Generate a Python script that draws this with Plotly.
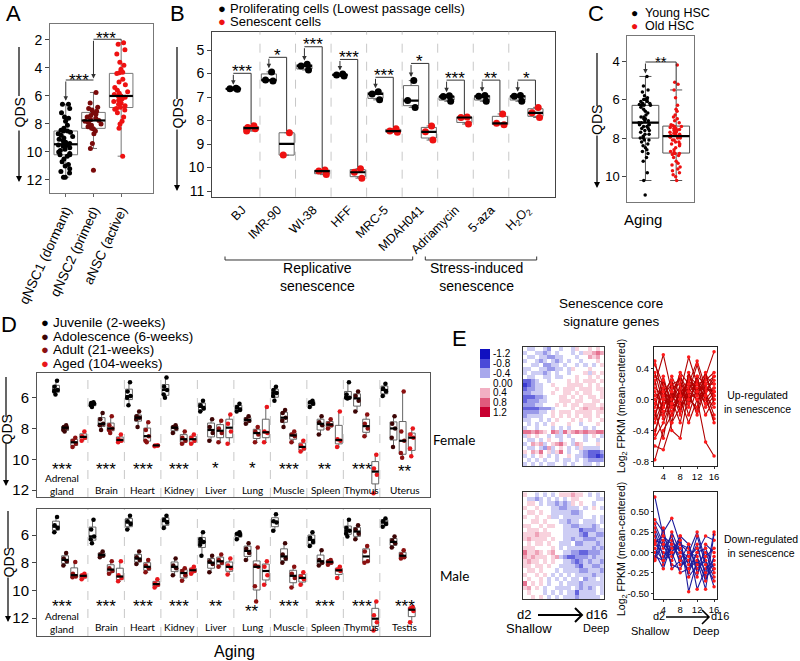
import numpy as np
import plotly.graph_objects as go

FONT = "Liberation Sans, Arial, sans-serif"
FONT_C = "Lato, Open Sans, sans-serif"

# ======================= DATA =======================
# ---- Panel A (QDS of neural stem cells)
A_categories = ["qNSC1 (dormant)", "qNSC2 (primed)", "aNSC (active)"]
A_qNSC1 = [6.6, 6.6, 6.9, 7.2, 7.5, 7.6, 7.8, 8.1, 8.3, 8.45, 8.5, 8.5, 8.6, 8.7, 8.8, 8.9, 9.0, 9.1,
           9.2, 9.3, 9.4, 9.45, 9.5, 9.5, 9.55, 9.6, 9.7, 9.8, 9.9, 10.0, 10.1, 10.2, 10.2, 10.3,
           10.5, 10.7, 10.9, 11.0, 11.2, 11.4, 11.5, 11.8, 11.8]
A_qNSC2 = [5.75, 6.5, 6.8, 6.9, 7.0, 7.1, 7.2, 7.3, 7.4, 7.5, 7.6, 7.7, 7.75, 7.8, 7.9, 8.0, 8.1,
           8.2, 8.3, 8.35, 8.5, 8.7, 9.4, 9.75, 11.3]
A_aNSC = [2.2, 2.3, 2.7, 3.0, 3.6, 3.8, 4.1, 4.3, 4.35, 4.4, 4.8, 5.0, 5.2, 5.4, 5.6, 5.7, 5.8, 5.9,
          6.0, 6.0, 6.1, 6.2, 6.3, 6.4, 6.5, 6.6, 6.7, 6.8, 6.9, 6.95, 7.0, 7.2, 7.5, 7.8, 8.0, 8.3, 10.3]

# ---- Panel B (cell lines)
B_cell_lines = ["BJ", "IMR-90", "WI-38", "HFF", "MRC-5", "MDAH041", "Adriamycin", "5-aza",
                "H<sub>2</sub>O<sub>2</sub>"]
B_proliferating = [[6.63, 6.65, 6.67], [5.93, 6.28, 6.32], [5.6, 5.68, 5.85], [6.02, 6.06, 6.1],
                   [6.78, 6.87, 7.12], [6.3, 7.15, 7.44], [6.95, 6.98, 7.18], [6.93, 6.97, 7.18],
                   [6.93, 6.97, 7.18]]
B_senescent = [[8.22, 8.3, 8.35, 8.45], [8.52, 9.47], [10.1, 10.15, 10.3], [10.05, 10.2, 10.45],
               [8.35, 8.45, 8.5], [8.23, 8.48, 8.83], [7.85, 7.87, 8.15], [7.72, 8.12, 8.18],
               [7.44, 7.67, 7.87]]
B_stars = ["***", "*", "***", "***", "***", "*", "***", "**", "*"]
B_bracket_level = [5.99, 5.31, 4.86, 5.4, 6.16, 5.57, 6.28, 6.28, 6.28]

# ---- Panel C (HSC)
C_young_hsc = [4.8, 5.3, 5.5, 5.6, 5.8, 5.9, 6.0, 6.0, 6.0, 6.1, 6.1, 6.2, 6.2, 6.25, 6.3, 6.3, 6.3,
               6.4, 6.5, 6.6, 6.7, 6.8, 6.9, 6.9, 7.0, 7.0, 7.1, 7.1, 7.2, 7.2, 7.3, 7.3, 7.3, 7.4,
               7.4, 7.5, 7.5, 7.6, 7.6, 7.7, 7.8, 7.8, 7.9, 8.0, 8.0, 8.1, 8.1, 8.2, 8.3, 8.4, 8.5,
               8.6, 8.7, 8.8, 9.0, 9.2, 9.8, 10.2, 10.95]
C_old_hsc = [4.2, 5.1, 5.2, 5.5, 5.9, 6.3, 6.5, 6.6, 6.8, 6.9, 7.0, 7.1, 7.2, 7.3, 7.35, 7.4, 7.4,
             7.45, 7.5, 7.5, 7.55, 7.6, 7.6, 7.7, 7.7, 7.75, 7.8, 7.8, 7.85, 7.9, 7.9, 7.95, 8.0,
             8.0, 8.1, 8.1, 8.2, 8.2, 8.3, 8.3, 8.4, 8.5, 8.6, 8.7, 8.75, 8.8, 8.8, 8.85, 8.9, 9.0,
             9.2, 9.3, 9.4, 9.5, 9.6, 9.7, 9.8, 9.9, 10.0, 10.2]

# ---- Panel D (mouse tissues)
D_groups = ["Juvenile (2-weeks)", "Adolescence (6-weeks)", "Adult (21-weeks)", "Aged (104-weeks)"]
D_female_tissues = ["Adrenal<br>gland", "Brain", "Heart", "Kidney", "Liver", "Lung", "Muscle",
                    "Spleen", "Thymus", "Uterus"]
D_male_tissues = ["Adrenal<br>gland", "Brain", "Heart", "Kidney", "Liver", "Lung", "Muscle",
                  "Spleen", "Thymus", "Testis"]
D_female_juvenile = [[4.9, 5.3, 5.5, 5.6, 5.8], [6.3, 6.35, 6.4, 6.5, 6.6], [5.0, 5.6, 5.9, 6.0, 6.5],
                     [4.7, 5.3, 5.5, 5.8, 6.0], [6.2, 6.5, 6.7, 6.9], [6.4, 6.6, 6.8, 6.9],
                     [5.3, 5.5, 5.7, 5.9, 6.2], [6.2, 6.3, 6.4, 6.6], [5.0, 5.8, 6.0, 6.0, 6.05],
                     [5.1, 5.4, 5.6, 5.9]]
D_female_adolescence = [[7.8, 7.9, 7.95, 8.1, 8.2], [7.0, 7.4, 7.7, 7.8, 8.1], [6.9, 7.2, 7.3, 7.4, 7.9],
                        [7.8, 7.9, 8.0, 8.3], [7.4, 7.9, 8.3, 8.8], [7.2, 7.4, 7.5, 7.7],
                        [6.8, 7.0, 7.3, 7.5, 7.9], [7.2, 7.6, 7.8, 8.4], [5.6, 5.9, 6.2, 6.9],
                        [7.2, 7.7, 8.0, 8.6, 9.2]]
D_female_adult = [[8.6, 8.8, 9.0, 9.2], [7.2, 7.8, 8.0, 8.1, 8.3], [7.6, 8.1, 8.5, 8.8, 8.9],
                  [8.2, 8.6, 8.8, 9.0], [7.5, 8.0, 8.3, 8.9], [7.9, 8.2, 8.4, 8.9],
                  [8.2, 8.4, 8.5, 8.9], [7.4, 7.7, 7.8, 8.0], [7.1, 7.7, 8.0, 8.5],
                  [5.6, 8.2, 8.8, 9.6, 9.9]]
D_female_aged = [[8.2, 8.5, 8.6, 8.8], [8.4, 8.7, 8.8, 8.9], [9.1, 9.1, 9.1, 9.15],
                 [8.4, 8.6, 8.8, 9.0], [7.1, 7.7, 8.2, 9.0], [6.6, 8.2, 8.3, 8.9],
                 [8.8, 9.1, 9.3, 9.5], [6.9, 8.7, 8.8, 9.2], [9.7, 10.6, 11.0, 12.2],
                 [8.0, 8.4, 8.6, 9.3, 9.8]]
D_male_juvenile = [[4.7, 5.3, 5.5, 5.8], [4.9, 5.6, 6.1, 6.3, 6.6], [4.6, 5.0, 5.2, 5.6],
                   [4.6, 4.9, 5.1, 5.5], [5.8, 6.3, 6.5, 6.7, 7.5], [5.8, 5.9, 6.0, 6.3],
                   [4.5, 5.0, 5.1, 5.7], [5.8, 6.2, 6.5, 6.8], [4.9, 5.5, 5.7, 5.9, 6.1],
                   [4.8, 5.0, 5.2, 5.4]]
D_male_adolescence = [[7.3, 7.7, 7.9, 8.2], [7.2, 7.4, 7.5, 7.6], [7.2, 7.6, 7.8, 8.1],
                      [7.7, 8.2, 8.4, 8.9], [7.5, 7.9, 8.1, 8.7], [6.6, 7.0, 7.3, 7.8],
                      [6.6, 7.4, 7.7, 8.0], [7.1, 7.8, 8.0, 8.2], [5.3, 5.6, 5.9, 6.3],
                      [6.1, 6.4, 6.6, 6.9]]
D_male_adult = [[7.95, 8.8, 9.0, 9.05], [7.9, 8.4, 8.6, 8.8], [7.8, 8.2, 8.4, 8.7],
                [8.4, 8.6, 8.9, 9.3], [7.4, 7.8, 8.0, 8.3], [6.9, 8.2, 8.3, 9.7, 10.8],
                [8.3, 8.8, 9.1, 9.8], [7.8, 7.9, 8.0, 8.15], [6.8, 7.2, 7.9, 8.0],
                [7.1, 7.4, 7.6, 7.7]]
D_male_aged = [[8.8, 8.9, 9.0, 9.2], [7.9, 8.9, 9.1, 9.35], [9.2, 9.5, 9.6, 9.8],
               [8.3, 8.5, 8.6, 8.8], [7.7, 8.2, 8.4, 8.85], [7.9, 8.3, 8.9, 9.6],
               [8.7, 9.0, 9.2, 9.6], [8.3, 8.5, 8.6, 9.1], [10.8, 11.8, 12.3, 12.9],
               [11.2, 11.3, 11.5, 12.3]]
D_female_stars = ["***", "***", "***", "***", "*", "*", "***", "**", "***", "**"]
D_male_stars = ["***", "***", "***", "***", "**", "**", "***", "***", "***", "***"]
D_female_star_level = [10.37, 10.37, 10.37, 10.37, 10.3, 10.3, 10.37, 10.37, 10.37, 10.5]
D_male_star_level = [10.87, 10.87, 10.87, 10.87, 10.87, 11.2, 10.87, 10.87, 10.87, 10.87]

# ---- Panel E (senescence core signature genes)
E_color_levels = [-1.2, -0.8, -0.4, 0.0, 0.4, 0.8, 1.2]
E_color_labels = ["-1.2", "-0.8", "-0.4", "0.00", "0.4", "0.8", "1.2"]
# each digit: level index 0..8 -> (digit - 4) * 0.23
E_heat_up_rows = [
    "43344324434435445454", "34433234344434355676", "43343322334443446564", "34432343234344344454",
    "44334223343443434345", "33443322334354445444", "34333234344344453545", "43344334334445445454",
    "11234434444545455545", "01233445444555545454", "12233444545554555455", "22333445445545455445",
    "11122344455454545545", "12223344455545544554", "22233444545455455545", "11112223444454565556",
    "22223345455545555455", "23333445454545455454", "33443434544454545445", "43434345444544344454",
    "34434443434344434344", "77676547637567676677", "35454434334344434543", "43343454434434434434",
    "34656345675436544454", "43343263454343533334", "54657453574344321112", "34345434344543321101",
    "43434344343343432222", "34343433443434433434"]
E_heat_down_rows = [
    "54434343455565543434", "43323434343455444433", "45543433232354544344", "54454443322333434543",
    "45545443333322344444", "54454453343333344343", "44554544433233433343", "55445455443322333234",
    "45554544443333122233", "55565554443333213322", "56555545443323322233", "45455454433342233323",
    "55544445434333333232", "75565456443322112223", "65655545632112223233", "56554545443321232332",
    "55455454433332133223", "45545444343333223332", "54454543434343333233", "45445434343433423343",
    "74545434434333233333", "56454344333343232343", "45444343434331333343", "44545434343332333334"]
E_days = [2, 4, 6, 8, 10, 12, 14, 16]
E_up_genes = [
    [0.5, 0.0, -0.1, 0.1, 0.2, 0.05, 0.3, 0.62], [-0.78, -0.4, -0.2, 0.1, 0.0, 0.2, 0.1, 0.25],
    [0.2, 0.58, 0.1, -0.05, 0.3, 0.1, 0.2, 0.0], [-0.6, -0.65, -0.3, -0.1, 0.15, 0.0, -0.55, -0.73],
    [0.45, 0.2, -0.2, 0.1, 0.55, 0.2, 0.1, 0.3], [-0.2, 0.1, 0.0, -0.3, 0.2, 0.5, 0.15, 0.1],
    [0.0, -0.25, 0.15, 0.2, -0.1, 0.3, 0.2, 0.2], [-0.4, -0.1, 0.2, 0.0, 0.25, 0.1, 0.05, -0.1],
    [0.3, 0.2, -0.4, -0.5, 0.1, 0.2, 0.0, 0.15], [-0.5, -0.3, 0.0, 0.1, 0.0, -0.1, 0.3, 0.05],
    [0.1, -0.1, 0.1, 0.3, 0.1, 0.0, 0.1, -0.2], [-0.1, 0.3, -0.1, 0.0, 0.3, 0.2, 0.25, 0.35],
    [0.25, -0.2, 0.05, 0.15, -0.2, 0.15, -0.2, 0.0], [-0.3, 0.0, 0.3, 0.05, 0.15, 0.25, 0.0, -0.25],
    [0.0, 0.15, -0.3, 0.2, 0.1, -0.2, 0.15, 0.1], [-0.15, -0.5, 0.1, -0.2, 0.35, 0.05, 0.3, 0.2],
    [0.15, 0.05, 0.2, 0.25, -0.05, 0.3, -0.1, 0.05], [-0.25, 0.25, -0.05, -0.1, 0.05, -0.15, 0.2, 0.3],
    [0.35, -0.05, 0.0, 0.35, 0.2, 0.1, 0.35, -0.05], [-0.05, -0.15, -0.15, 0.0, -0.3, 0.0, 0.1, 0.15],
    [0.05, 0.1, 0.25, -0.15, 0.1, 0.45, 0.05, -0.3], [-0.45, 0.0, -0.05, 0.3, 0.0, 0.1, -0.05, 0.1]]
E_down_genes = [
    [0.68, 0.2, 0.1, -0.1, -0.2, -0.1, -0.3, -0.2], [0.4, 0.25, 0.42, 0.1, 0.0, 0.25, -0.1, -0.3],
    [0.35, 0.1, 0.0, 0.2, -0.48, -0.1, -0.45, 0.22], [0.2, -0.15, 0.15, 0.0, -0.1, -0.3, 0.1, 0.0],
    [0.1, 0.0, -0.1, 0.2, 0.1, -0.2, -0.1, -0.42], [0.0, -0.2, 0.1, -0.05, -0.25, 0.0, 0.2, 0.15],
    [-0.1, 0.15, -0.05, 0.1, 0.05, -0.45, -0.2, -0.1], [0.3, 0.05, 0.2, -0.15, -0.1, 0.1, -0.3, 0.25],
    [-0.05, -0.1, 0.0, 0.15, -0.3, -0.15, 0.0, -0.25], [0.15, 0.1, -0.15, -0.2, 0.0, -0.05, -0.35, -0.05],
    [0.25, -0.05, 0.05, 0.05, -0.15, 0.2, -0.15, -0.35], [-0.08, 0.3, -0.2, -0.1, 0.1, -0.25, -0.05, 0.05],
    [0.05, -0.1, 0.25, 0.0, -0.05, 0.05, -0.25, -0.15], [0.12, 0.2, 0.0, -0.25, -0.2, 0.0, 0.05, -0.2]]

# ======================= STYLE =======================
A_colors = ["#000000", "#7a0a0a", "#ee1111"]
B_colors = ["#000000", "#ee1111"]
D_colors = ["#000000", "#3d0505", "#8b1010", "#e8161b"]
HEAT_SCALE = [[0, "#1010c0"], [0.1667, "#4a4ad8"], [0.3333, "#a8a8ec"], [0.5, "#ffffff"],
              [0.6667, "#f2b0c3"], [0.8333, "#e05a7c"], [1, "#c80030"]]

W, H = 800, 661
def px(x):
    return x / W
def py(y):
    return 1 - y / H

fig = go.Figure()
shapes = []
annots = []
axes = {}
med_x, med_y = {}, {}


def set_axes(n, xpx, ypx, xr, yr, xkw=None, ykw=None, lc="#666"):
    base = dict(showgrid=False, zeroline=False, showline=True, mirror=True, linecolor=lc,
                linewidth=1, automargin=False, type="linear", fixedrange=True)
    sfx = "" if n == 1 else str(n)
    xa = dict(base, domain=[px(xpx[0]), px(xpx[1])], range=xr, anchor="y" + sfx,
              showticklabels=False, ticks="")
    ya = dict(base, domain=[py(ypx[1]), py(ypx[0])], range=yr, anchor="x" + sfx,
              showticklabels=False, ticks="")
    xa.update(xkw or {})
    ya.update(ykw or {})
    axes["xaxis" + sfx] = xa
    axes["yaxis" + sfx] = ya
    return "x" + sfx, "y" + sfx


def ann(text, x, y, size=13, color="#000", family=FONT, **kw):
    d = dict(text=text, x=px(x), y=py(y), xref="paper", yref="paper", showarrow=False,
             font=dict(size=size, color=color, family=family), xanchor="center", yanchor="middle")
    d.update(kw)
    annots.append(d)


def add_box(vals, pos, xa, ya, color, width, msize, jitter, ww, lc="#666"):
    fig.add_trace(go.Box(y=vals, x0=pos, xaxis=xa, yaxis=ya, width=width, boxpoints="all",
                         jitter=jitter, pointpos=0, whiskerwidth=ww,
                         fillcolor="rgba(255,255,255,0)", line=dict(color=lc, width=1),
                         marker=dict(color=color, size=msize, line=dict(width=0)),
                         showlegend=False, hoverinfo="skip"))
    m = float(np.median(vals))
    med_x.setdefault((xa, ya), []).extend([pos - width / 2, pos + width / 2, None])
    med_y.setdefault((xa, ya), []).extend([m, m, None])


def data_line(xa, ya, x0, y0, x1, y1, color="#333", width=1):
    shapes.append(dict(type="line", xref=xa, yref=ya, x0=x0, y0=y0, x1=x1, y1=y1,
                       line=dict(color=color, width=width)))


def data_arrow(xa, ya, x, y_from, y_to, color="#333"):
    annots.append(dict(x=x, y=y_to, ax=x, ay=y_from, xref=xa, yref=ya, axref=xa, ayref=ya,
                       text="", showarrow=True, arrowhead=2, arrowsize=0.9, arrowwidth=1,
                       arrowcolor=color, standoff=0, startstandoff=0))


def stars(xa, ya, x, y, text, size):
    annots.append(dict(x=x, y=y, xref=xa, yref=ya, text=text, showarrow=False,
                       font=dict(size=size, family=FONT, color="#000"),
                       xanchor="center", yanchor="middle", yshift=-0.27 * size))


def qds(xp, y_top, t_top, t_bot, y_bot, fs=14):
    shapes.append(dict(type="line", xref="paper", yref="paper", x0=px(xp), x1=px(xp),
                       y0=py(y_top), y1=py(t_top), line=dict(color="#000", width=1.2)))
    ann("QDS", xp, (t_top + t_bot) / 2, size=fs, textangle=-90)
    annots.append(dict(x=px(xp), y=py(y_bot), xref="paper", yref="paper", ax=0,
                       ay=-(y_bot - t_bot), text="", showarrow=True, arrowhead=2, arrowsize=1,
                       arrowwidth=1.2, arrowcolor="#000", standoff=0))


# ======================= PANEL A =======================
xa, ya = set_axes(1, (50, 153), (24, 193), [-0.57, 3.15], [12.93, 0.86],
                  xkw=dict(showticklabels=True, tickvals=[0, 1, 2], ticktext=A_categories,
                           tickangle=-65, ticks="outside", ticklen=3, tickcolor="#666",
                           tickfont=dict(size=13.5, family=FONT)),
                  ykw=dict(showticklabels=True, tickvals=[2, 4, 6, 8, 10, 12], ticks="outside",
                           ticklen=4, tickcolor="#444", tickfont=dict(size=14, family=FONT)),
                  lc="#777")
for i, vals in enumerate([A_qNSC1, A_qNSC2, A_aNSC]):
    add_box(vals, i, xa, ya, A_colors[i], 0.85, 5, 0.75, 0.3, lc="#777")
data_line(xa, ya, 0, 4.86, 1, 4.86)
data_arrow(xa, ya, 0, 4.86, min(A_qNSC1) - 0.25)
data_arrow(xa, ya, 1, 1.95, 4.75)
data_line(xa, ya, 1, 1.95, 2, 1.95)
data_line(xa, ya, 2, 1.95, 2, min(A_aNSC) - 0.1)
stars(xa, ya, 0.48, 4.6, "***", 17)
stars(xa, ya, 1.45, 1.55, "***", 17)
qds(19, 47, 96, 129, 182)

# ======================= PANEL B =======================
xa, ya = set_axes(2, (212, 555), (31.7, 196.7), [-1.2, 18.1], [11.24, 4.22],
                  xkw=dict(showticklabels=True, tickvals=[2 * i + 0.5 for i in range(9)],
                           ticktext=B_cell_lines, tickangle=-45,
                           tickfont=dict(size=12.5, family=FONT)),
                  ykw=dict(showticklabels=True, tickvals=list(range(5, 12)), ticks="outside",
                           ticklen=4, tickcolor="#444", tickfont=dict(size=14, family=FONT)),
                  lc="#444")
for i in range(1, 9):
    shapes.append(dict(type="line", xref=xa, yref=ya + " domain", x0=2 * i - 0.5, x1=2 * i - 0.5,
                       y0=0, y1=1, line=dict(color="#c8c8c8", width=1, dash="dash")))
for i in range(9):
    add_box(B_proliferating[i], 2 * i, xa, ya, B_colors[0], 0.85, 7, 0.7, 0.3)
    add_box(B_senescent[i], 2 * i + 1, xa, ya, B_colors[1], 0.85, 7, 0.7, 0.3)
    top = B_bracket_level[i]
    data_line(xa, ya, 2 * i, top, 2 * i + 1, top)
    data_arrow(xa, ya, 2 * i, top, min(B_proliferating[i]) - 0.15)
    data_line(xa, ya, 2 * i + 1, top, 2 * i + 1, min(B_senescent[i]) - 0.08)
    stars(xa, ya, 2 * i + 0.5, top - 0.27, B_stars[i], 17)
qds(177, 47, 99, 128, 191)
# legend B
ann("●", 221.5, 8, size=13, color=B_colors[0])
ann("Proliferating cells (Lowest passage cells)", 228, 8, size=13, xanchor="left")
ann("●", 221.5, 21.5, size=13, color=B_colors[1])
ann("Senescent cells", 228, 21.5, size=13, xanchor="left")
# group brackets under B
for (x0, x1) in [(225, 412.7), (425.3, 536.7)]:
    shapes.append(dict(type="path", xref="paper", yref="paper",
                       path="M %f %f L %f %f L %f %f L %f %f" % (px(x0), py(256.5), px(x0), py(260),
                                                                  px(x1), py(260), px(x1), py(256.5)),
                       line=dict(color="#333", width=1)))
ann("Replicative<br>senescence", 317, 277, size=14)
ann("Stress-induced<br>senescence", 476, 277, size=14)

# ======================= PANEL C =======================
xa, ya = set_axes(3, (627.3, 694), (36, 201.7), [-0.59, 1.58], [11.3, 2.7],
                  ykw=dict(showticklabels=True, tickvals=[4, 6, 8, 10], ticks="outside",
                           ticklen=4, tickcolor="#444", tickfont=dict(size=13, family=FONT)),
                  lc="#777")
add_box(C_young_hsc, 0, xa, ya, B_colors[0], 0.87, 3.5, 0.6, 0.45, lc="#555")
add_box(C_old_hsc, 1, xa, ya, B_colors[1], 0.87, 3.5, 0.6, 0.45, lc="#555")
data_line(xa, ya, 0, 4.05, 1, 4.05)
data_arrow(xa, ya, 0, 4.05, 4.65)
data_line(xa, ya, 1, 4.05, 1, 5.45)
stars(xa, ya, 0.5, 3.8, "**", 15)
qds(597, 53, 106, 134, 188)
ann("●", 634.3, 12.7, size=12, color=B_colors[0])
ann("Young HSC", 643, 12.7, size=12.5, xanchor="left")
ann("●", 634.3, 25.5, size=12, color=B_colors[1])
ann("Old HSC", 643, 25.5, size=12.5, xanchor="left")
ann("Aging", 643, 220, size=15)

# ======================= PANEL D =======================
D_XMIN, D_XMAX = -2.08, 41.0
seps = [D_XMIN] + [4 * i - 0.5 for i in range(1, 10)] + [D_XMAX]
centers = [(seps[i] + seps[i + 1]) / 2 for i in range(10)]
panels = [
    (4, (373, 497), [12.45, 4.4], [D_female_juvenile, D_female_adolescence, D_female_adult, D_female_aged],
     D_female_tissues, D_female_stars, D_female_star_level, (12.0, 11.65), "Female", 440),
    (5, (509, 636), [13.3, 4.12], [D_male_juvenile, D_male_adolescence, D_male_adult, D_male_aged],
     D_male_tissues, D_male_stars, D_male_star_level, (12.63, 12.35), "Male", 576),
]
for n, ypx, yr, groups, tissues, st, st_lvl, lab_y, sex, sex_y in panels:
    xa, ya = set_axes(n, (37, 430), ypx, [D_XMIN, D_XMAX], yr,
                      ykw=dict(showticklabels=True, tickvals=[6, 8, 10, 12], ticks="outside",
                               ticklen=4, tickcolor="#444", tickfont=dict(size=15, family=FONT)),
                      lc="#555")
    for s in seps[1:-1]:
        shapes.append(dict(type="line", xref=xa, yref=ya + " domain", x0=s, x1=s, y0=0, y1=1,
                           line=dict(color="#c8c8c8", width=1, dash="dash")))
    for t in range(10):
        for g in range(4):
            add_box(groups[g][t], 4 * t + g, xa, ya, D_colors[g], 0.75, 4.5, 0.6, 0.3)
        stars(xa, ya, centers[t], st_lvl[t], st[t], 17)
        two = "<br>" in tissues[t]
        annots.append(dict(x=centers[t], y=lab_y[1] if two else lab_y[0], xref=xa, yref=ya,
                           text=tissues[t], showarrow=False,
                           font=dict(size=10, family=FONT_C, color="#000"),
                           xanchor="center", yanchor="middle"))
    ann(sex, 454, sex_y, size=13.5, family=FONT_C, xanchor="center")
qds(6, 377, 417, 442, 486, fs=14)
qds(8, 511, 549, 576, 622, fs=14)
for k, name in enumerate(D_groups):
    yy = [322, 336, 349.5, 363][k]
    ann("●", 44.5, yy, size=13, color=D_colors[k])
    ann(name, 51, yy, size=13.5, xanchor="left")
ann("Aging", 234, 651, size=16)

# ======================= PANEL E =======================
# colour key
xa, ya = set_axes(6, (480, 490), (349, 417), [-0.5, 0.5], [6.5, -0.5],
                  ykw=dict(showticklabels=True, side="right", tickvals=list(range(7)),
                           ticktext=E_color_labels, tickfont=dict(size=10, family=FONT)),
                  lc="rgba(0,0,0,0)")
fig.add_trace(go.Heatmap(z=[[v] for v in E_color_levels], x=[0], y=list(range(7)), xaxis=xa,
                         yaxis=ya, colorscale=HEAT_SCALE, zmin=-1.2, zmax=1.2, showscale=False,
                         hoverinfo="skip", xgap=0, ygap=0))


def decode(rows):
    return [[(int(c) - 4) * 0.23 for c in r] for r in rows]


for n, ypx, rows in [(7, (347, 466), E_heat_up_rows), (8, (492.3, 599.3), E_heat_down_rows)]:
    z = decode(rows)
    nr, nc = len(z), len(z[0])
    xa, ya = set_axes(n, (522.7, 604), ypx, [-0.5, nc - 0.5], [nr - 0.5, -0.5], lc="#333")
    fig.add_trace(go.Heatmap(z=z, x=list(range(nc)), y=list(range(nr)), xaxis=xa, yaxis=ya,
                             colorscale=HEAT_SCALE, zmin=-1.2, zmax=1.2, showscale=False,
                             hoverinfo="skip"))

line_panels = [
    (9, (347, 466), [-0.86, 0.68], E_up_genes, "#b00000", [-0.8, -0.4, 0.0, 0.4],
     ["-0.8", "-0.4", "0.0", "0.4"], 406),
    (10, (492, 599), [-0.57, 0.74], E_down_genes, "#1c1c9c", [-0.5, -0.25, 0.0, 0.25, 0.5],
     ["-0.50", "-0.25", "0.00", "0.25", "0.50"], 549),
]
for n, ypx, yr, genes, lcol, tv, tt, ty in line_panels:
    xa, ya = set_axes(n, (654, 717), ypx, [1.8, 16.7], yr,
                      xkw=dict(showticklabels=True, tickvals=[4, 8, 12, 16], ticks="outside",
                               ticklen=2, tickcolor="#333", tickfont=dict(size=9.5, family=FONT)),
                      ykw=dict(showticklabels=True, tickvals=tv, ticktext=tt, ticks="outside",
                               ticklen=2, tickcolor="#333", tickfont=dict(size=9.5, family=FONT)),
                      lc="#222")
    for g in genes:
        fig.add_trace(go.Scatter(x=E_days, y=g, xaxis=xa, yaxis=ya, mode="lines+markers",
                                 line=dict(color=lcol, width=1.1),
                                 marker=dict(color="#ff1a1a", size=3.5), showlegend=False,
                                 hoverinfo="skip"))
    ann("Log<sub>2</sub> FPKM (mean-centered)", 622, ty, size=10.5, textangle=-90)

ann("Senescence core<br>signature genes", 611, 312.5, size=13.5)
ann("Up-regulated<br>in senescence", 757, 402, size=10.5)
ann("Down-regulated<br>in senescence", 761, 546, size=10.5)
# d2 -> d16 arrows
ann("d2", 524, 614, size=13)
ann("d16", 597, 614, size=13)
ann("Shallow", 529, 628, size=13)
ann("Deep", 596, 628, size=11)
ann("d2", 659, 616, size=11)
ann("d16", 720, 616, size=11)
ann("Shallow", 650, 631, size=11)
ann("Deep", 706, 631, size=11)
for (x0, x1, yy, w) in [(538, 582, 615, 2), (666, 709, 617, 1.6)]:
    shapes.append(dict(type="path", xref="paper", yref="paper",
                       path="M %f %f L %f %f M %f %f L %f %f L %f %f" % (
                           px(x0), py(yy), px(x1), py(yy), px(x1 - 7), py(yy - 7), px(x1), py(yy),
                           px(x1 - 7), py(yy + 7)),
                       line=dict(color="#000", width=w)))

# medians
for (xa, ya), xs in med_x.items():
    fig.add_trace(go.Scatter(x=xs, y=med_y[(xa, ya)], xaxis=xa, yaxis=ya, mode="lines",
                             line=dict(color="#000", width=2.2), showlegend=False,
                             hoverinfo="skip"))

# panel letters
for L, (x, y) in {"A": (13, 14), "B": (177, 14), "C": (596, 14), "D": (9, 324), "E": (460, 338)}.items():
    ann(L, x, y, size=22)

fig.update_layout(width=W, height=H, margin=dict(l=0, r=0, t=0, b=0), template="none",
                  paper_bgcolor="white", plot_bgcolor="rgba(0,0,0,0)", showlegend=False,
                  font=dict(family=FONT, color="#000"), shapes=shapes, annotations=annots,
                  **axes)
fig.write_html("out.html", config={"displayModeBar": False, "staticPlot": True},
               post_script="document.body.style.margin='0px';document.body.style.padding='0px';"
                           "document.body.style.overflow='hidden';")
